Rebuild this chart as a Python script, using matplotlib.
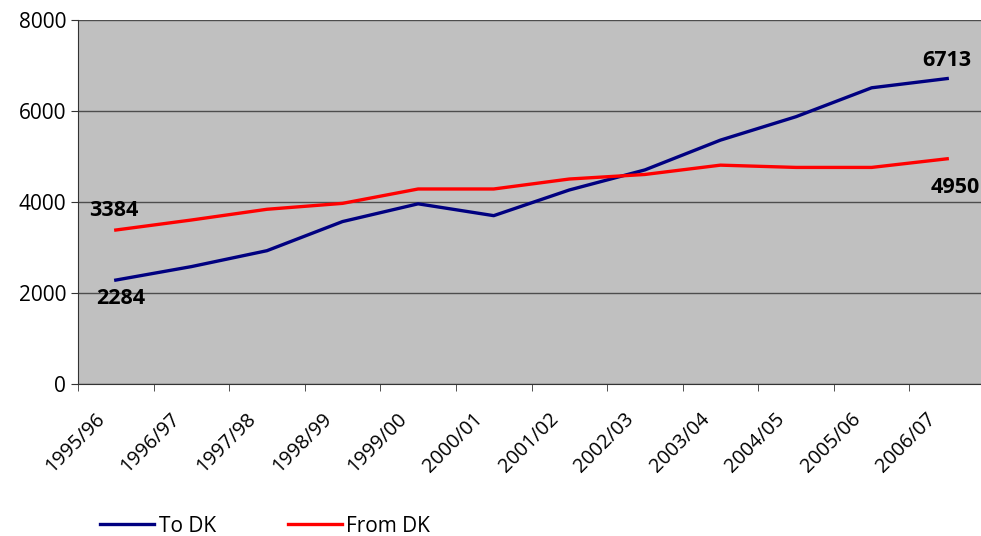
import matplotlib
matplotlib.use("Agg")
import matplotlib.pyplot as plt
import matplotlib.transforms as mtransforms
import numpy as np

seasons = ["1995/96", "1996/97", "1997/98", "1998/99", "1999/00", "2000/01",
           "2001/02", "2002/03", "2003/04", "2004/05", "2005/06", "2006/07"]
to_dk = [2284, 2580, 2930, 3570, 3960, 3700, 4264, 4705, 5360, 5875, 6510, 6713]
from_dk = [3384, 3604, 3840, 3970, 4286, 4286, 4505, 4605, 4810, 4760, 4760, 4950]

plt.rcParams["font.family"] = ["Open Sans", "DejaVu Sans"]

fig = plt.figure(figsize=(9.81, 5.36), dpi=100)
ax = fig.add_axes([78 / 981, 1 - 384 / 536, 907 / 981, 364 / 536])
ax.set_facecolor("#C0C0C0")

x = np.arange(len(seasons))
ax.plot(x, to_dk, color="#000080", lw=2.4, label="To DK", solid_joinstyle="round")
ax.plot(x, from_dk, color="#FF0000", lw=2.4, label="From DK", solid_joinstyle="round")

ax.set_xlim(-0.5, len(seasons) - 0.5)
ax.set_ylim(0, 8000)
ax.set_yticks(range(0, 8001, 2000))
ax.grid(axis="y", color="#4d4d4d", lw=1)
ax.set_axisbelow(True)

# category labels at centres, tick marks on the boundaries
ax.set_xticks(x)
ax.set_xticklabels(seasons, rotation=45, ha="right", va="top",
                   rotation_mode="anchor", fontsize=14.3)
ax.tick_params(axis="x", which="major", length=0, pad=18)
shift = mtransforms.ScaledTranslation(-21 / 100, 0, fig.dpi_scale_trans)
for lab in ax.get_xticklabels():
    lab.set_transform(lab.get_transform() + shift)
ax.set_xticks(np.arange(-0.5, len(seasons) - 0.5), minor=True)
ax.tick_params(axis="x", which="minor", length=5, color="#333333")
ax.tick_params(axis="y", labelsize=15, length=5, color="#333333")

for side in ["top", "right"]:
    ax.spines[side].set_visible(False)
for side in ["left", "bottom"]:
    ax.spines[side].set_color("#333333")

bold = dict(fontsize=15.5, fontweight="bold", ha="center", va="center")
ax.text(-0.03, 3820, "3384", **bold)
ax.text(0.06, 1870, "2284", **bold)
ax.text(10.99, 7110, "6713", **bold)
ax.text(11.1, 4310, "4950", **bold)

fig.legend(loc="lower left", bbox_to_anchor=(0.083, -0.036), ncol=2, frameon=False,
           fontsize=15, handlelength=2.6, handletextpad=0.2, columnspacing=3.45)

fig.savefig("out.png", dpi=100)
